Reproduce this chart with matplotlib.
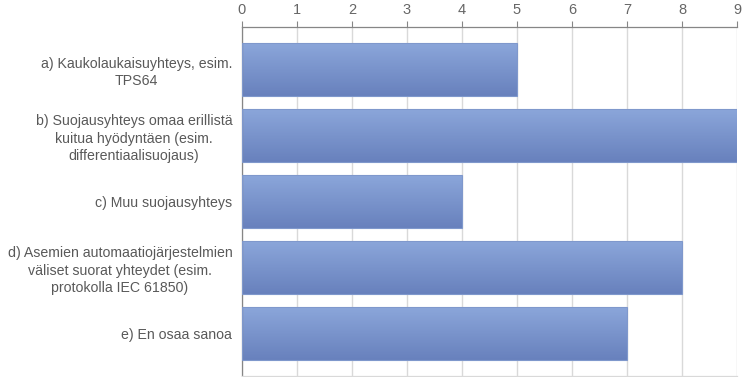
import matplotlib as mpl

mpl.use("Agg")

import matplotlib.pyplot as plt
import numpy as np
from matplotlib.colors import LinearSegmentedColormap
from matplotlib.patches import Rectangle

CATEGORIES = [
    "a) Kaukolaukaisuyhteys, esim.\nTPS64",
    "b) Suojausyhteys omaa erillistä\nkuitua hyödyntäen (esim.\ndifferentiaalisuojaus)",
    "c) Muu suojausyhteys",
    "d) Asemien automaatiojärjestelmien\nväliset suorat yhteydet (esim.\nprotokolla IEC 61850)",
    "e) En osaa sanoa",
]
COUNTS = [5, 9, 4, 8, 7]
X_TICKS = list(range(0, 10))

plt.rcParams["font.family"] = ["Liberation Sans", "DejaVu Sans"]

fig = plt.figure(figsize=(7.49, 3.77), dpi=100)
ax = fig.add_axes([242 / 749, 1 - 376 / 377, (737 - 242) / 749, (376 - 27) / 377])

grad = LinearSegmentedColormap.from_list("bar", ["#8ba6da", "#6881bd"])
gradient = np.linspace(0, 1, 64).reshape(-1, 1)
bar_h = 0.8

for i, val in enumerate(COUNTS):
    ax.imshow(gradient, cmap=grad, aspect="auto",
              extent=[0, val, i + bar_h / 2, i - bar_h / 2], zorder=2,
              interpolation="bilinear")
    ax.add_patch(Rectangle((0, i - bar_h / 2), val, bar_h, fill=False,
                           edgecolor="#7f98cc", linewidth=0.8, zorder=3))

pad = 9.5 / 66
ax.set_ylim(len(COUNTS) - 0.5 + pad, -0.5 - pad)
ax.set_xlim(0, 9)
ax.set_xticks(X_TICKS)
ax.set_yticks(range(len(CATEGORIES)))
ax.set_yticklabels(CATEGORIES, multialignment="center", linespacing=1.3)
ax.xaxis.tick_top()
ax.tick_params(axis="x", labelsize=10.5, colors="#666666", length=4, width=0.8,
               color="#868686", pad=3)
ax.tick_params(axis="y", labelsize=10.2, colors="#595959", length=0, pad=7)
ax.grid(axis="x", color="#d9d9d9", linewidth=1.0, zorder=0)
ax.set_axisbelow(True)

ax.spines["right"].set_visible(False)
ax.spines["top"].set_color("#868686")
ax.spines["left"].set_color("#868686")
ax.spines["bottom"].set_color("#d9d9d9")
for s in ax.spines.values():
    s.set_linewidth(0.9)

fig.savefig("out.png", dpi=100)
